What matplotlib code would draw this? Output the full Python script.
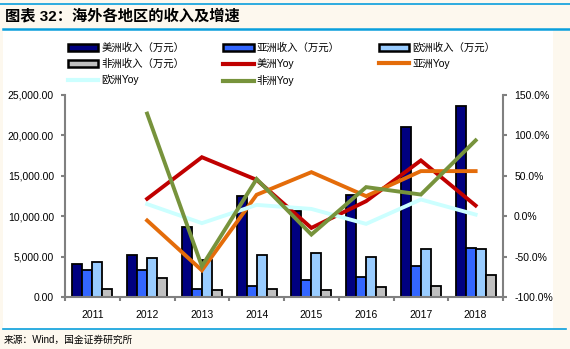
import numpy as np
import matplotlib
matplotlib.use("Agg")
import matplotlib.pyplot as plt
from matplotlib.patches import Patch, Rectangle
from matplotlib.lines import Line2D
from matplotlib.ticker import FuncFormatter, MultipleLocator

plt.rcParams['font.family'] = ['Liberation Sans', 'Noto Sans CJK SC', 'DejaVu Sans']

years = ['2011', '2012', '2013', '2014', '2015', '2016', '2017', '2018']
america = [4100, 5150, 8650, 12560, 10600, 12600, 21070, 23640]
asia = [3380, 3300, 1030, 1400, 2150, 2480, 3800, 6070]
europe = [4280, 4780, 4530, 5150, 5450, 4960, 5950, 5950]
africa = [1030, 2300, 820, 1030, 910, 1240, 1400, 2770]
# yoy in %, no value for 2011
america_yoy = [np.nan, 21.5, 73, 45, -14.5, 18.6, 69, 13.2]
asia_yoy = [np.nan, -5.3, -67, 26.5, 54.5, 24.8, 55.8, 55.8]
europe_yoy = [np.nan, 15, -8.6, 14, 9, -9.5, 20.7, 2]
africa_yoy = [np.nan, 127, -62, 46, -22.7, 36, 26.8, 93.8]

bar_labels = ['美洲收入（万元）', '亚洲收入（万元）', '欧洲收入（万元）', '非洲收入（万元）']
bar_colors = ['#000080', '#3366FF', '#99CCFF', '#C0C0C0']
line_labels = ['美洲Yoy', '亚洲Yoy', '欧洲Yoy', '非洲Yoy']
line_colors = ['#C00000', '#E46C0A', '#CCFFFF', '#77933C']

W, H = 570, 349
fig = plt.figure(figsize=(W / 100, H / 100), dpi=100)
fig.patch.set_facecolor('#FDF8EE')

# white panel + blue rules
fig.patches.append(Rectangle((3 / W, 1 - 329 / H), 550 / W, 299 / H, transform=fig.transFigure,
                             facecolor='white', edgecolor='none', zorder=-5))
blue = '#0A9FDC'
fig.add_artist(Line2D([0, 1], [1 - 4 / H, 1 - 4 / H], transform=fig.transFigure, color=blue, lw=1.2))
fig.add_artist(Line2D([3 / W, 1], [1 - 29 / H, 1 - 29 / H], transform=fig.transFigure, color=blue, lw=1.8))
fig.add_artist(Line2D([3 / W, 566 / W], [1 - 329 / H, 1 - 329 / H], transform=fig.transFigure, color=blue, lw=1.2))

fig.text(5 / W, 1 - 16 / H, '图表 32：海外各地区的收入及增速', fontsize=11, fontweight='bold',
         va='center', ha='left', family=['Liberation Sans', 'Noto Sans CJK SC'])
fig.text(4 / W, 1 - 340 / H, '来源：Wind，国金证券研究所', fontsize=7, va='center', ha='left')

ax = fig.add_axes([65 / W, 1 - 297 / H, 438 / W, 202 / H])
ax.set_facecolor('none')
x = np.arange(len(years))
bw = 0.183
offsets = [-1.5 * bw, -0.5 * bw, 0.5 * bw, 1.5 * bw]
for vals, c, off in zip([america, asia, europe, africa], bar_colors, offsets):
    ax.bar(x + off, vals, width=bw, color=c, edgecolor='black', linewidth=1.3, zorder=2)

ax.set_xlim(-0.5, len(years) - 0.5)
ax.set_ylim(0, 25000)
ax.yaxis.set_major_locator(MultipleLocator(5000))
ax.yaxis.set_major_formatter(FuncFormatter(lambda v, p: f'{v:,.2f}'))
ax.set_xticks(x)
ax.set_xticklabels(years)
ax.set_xticks(np.arange(-0.5, len(years)), minor=True)

ax2 = ax.twinx()
for vals, c in zip([america_yoy, asia_yoy, europe_yoy, africa_yoy], line_colors):
    ax2.plot(x, vals, color=c, lw=2.8, solid_joinstyle='miter', zorder=3)
ax2.set_ylim(-100, 150)
ax2.yaxis.set_major_locator(MultipleLocator(50))
ax2.yaxis.set_major_formatter(FuncFormatter(lambda v, p: f'{v:.1f}%'))

for a in (ax, ax2):
    a.spines['top'].set_visible(False)
    for s in ['left', 'right', 'bottom']:
        a.spines[s].set_color('#808080')
        a.spines[s].set_linewidth(1.5)
ax.spines['right'].set_visible(False)
ax2.spines['left'].set_visible(False)
ax2.spines['bottom'].set_visible(False)

ax.tick_params(axis='y', length=3, width=1.5, color='#808080', labelsize=7.5, pad=5)
ax2.tick_params(axis='y', length=3, width=1.5, color='#808080', labelsize=7.5, pad=5)
ax.tick_params(axis='x', which='major', length=0, labelsize=7.5, pad=9)
ax.tick_params(axis='x', which='minor', length=3, width=1.5, color='#808080')

handles = []
for c in bar_colors:
    handles.append(Patch(facecolor=c, edgecolor='black', linewidth=1.8))
for c in line_colors:
    handles.append(Line2D([], [], color=c, lw=3))
labels = bar_labels + line_labels
# reorder so the legend reads row by row
order = [0, 3, 6, 1, 4, 7, 2, 5]
fig.legend([handles[i] for i in order], [labels[i] for i in order], ncol=3,
           loc='upper left', bbox_to_anchor=(68 / W, 1 - 42.5 / H), frameon=False,
           fontsize=7.5, handlelength=2.9, handleheight=0.7, handletextpad=0.3,
           columnspacing=3.75, labelspacing=0.55, borderpad=0, borderaxespad=0)

fig.savefig('out.png', dpi=100, facecolor=fig.get_facecolor())
